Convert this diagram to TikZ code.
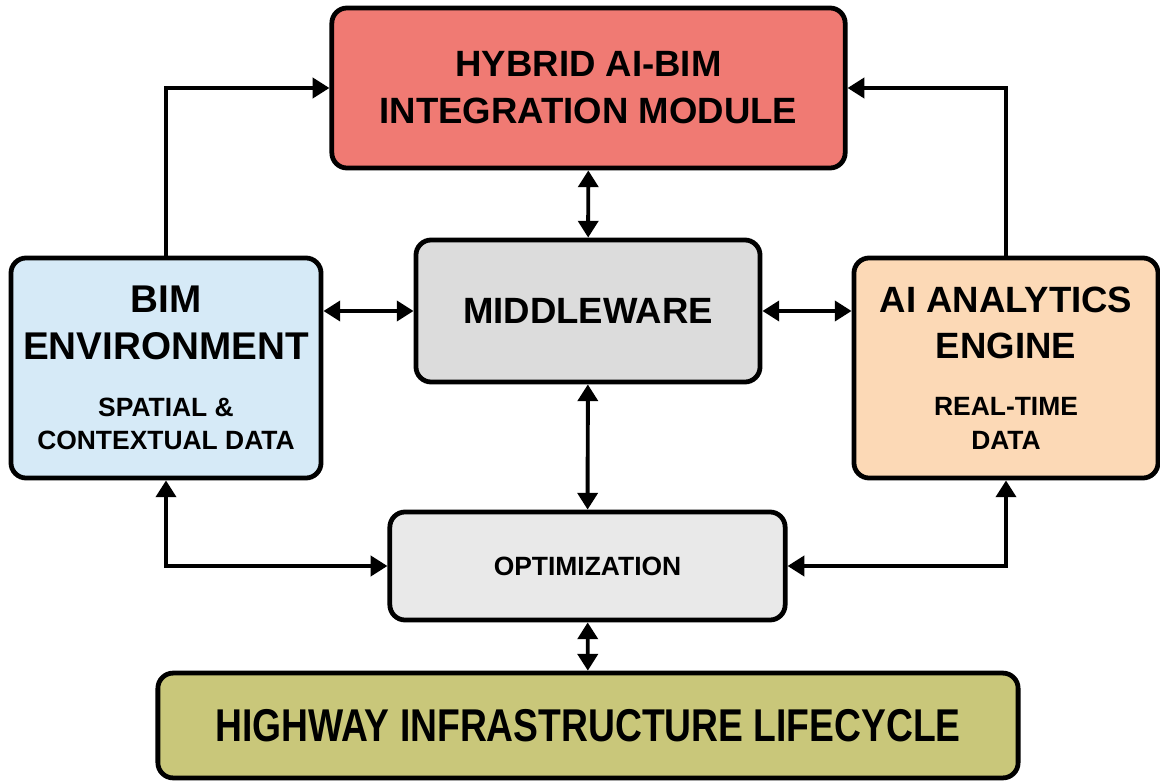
\documentclass[tikz,border=0pt]{standalone}
\usepackage{fontspec}
\setmainfont{Liberation Sans}
\newfontfamily\narrowfont[FakeStretch=0.81]{Liberation Sans}
\usepackage{tikz}
\usetikzlibrary{arrows.meta}
\definecolor{hybridred}{RGB}{240,122,115}
\definecolor{bimblue}{RGB}{214,234,247}
\definecolor{aipeach}{RGB}{252,217,182}
\definecolor{midgray}{RGB}{220,220,220}
\definecolor{optgray}{RGB}{233,233,233}
\definecolor{hwolive}{RGB}{201,199,122}
\newcommand{\bigtxt}{\fontsize{26}{33.4}\selectfont\bfseries}
\newcommand{\smalltxt}{\fontsize{18.8}{24}\selectfont\bfseries}
\tikzstyle{block} = [draw,line width=3.4pt,rounded corners=0.38cm,align=center,inner sep=0pt,font=\bigtxt]
\tikzstyle{arrow} = [line width=2.8pt,-{Triangle[length=0.42cm,width=0.5cm]}]
\tikzstyle{twoway} = [line width=2.8pt,{Triangle[length=0.42cm,width=0.5cm]}-{Triangle[length=0.42cm,width=0.5cm]}]

\begin{document}
\begin{tikzpicture}[x=0.025cm,y=-0.025cm]
          \useasboundingbox (0,0) rectangle (1160,782);
          \node[block, fill=hybridred, minimum width=12.83cm, minimum height=4cm] at (588.5,88) (hybrid)
            {HYBRID AI-BIM\\INTEGRATION MODULE};
          \node[block, fill=midgray, minimum width=8.6cm, minimum height=3.55cm] at (588,311) (mid)
            {MIDDLEWARE};
          \node[block, fill=bimblue, minimum width=7.75cm, minimum height=5.5cm, font=\fontsize{27.5}{33.4}\selectfont\bfseries] at (166,368) (bim)
            {BIM\\ENVIRONMENT\\[7pt]{\smalltxt SPATIAL \&}\\[-9.4pt]{\smalltxt CONTEXTUAL DATA}};
          \node[block, fill=aipeach, minimum width=7.6cm, minimum height=5.5cm] at (1006,368) (ai)
            {AI ANALYTICS\\ENGINE\\[7pt]{\smalltxt REAL-TIME}\\[-9.4pt]{\smalltxt DATA}};
          \node[block, fill=optgray, minimum width=9.88cm, minimum height=2.7cm, font=\smalltxt] at (587.5,566) (opt)
            {OPTIMIZATION};
          \node[block, fill=hwolive, minimum width=21.5cm, minimum height=2.62cm, font=\narrowfont\fontsize{32.7}{36}\selectfont\bfseries] at (588,725.5) (hwy)
            {HIGHWAY INFRASTRUCTURE LIFECYCLE};

          \draw[arrow] (bim.north) |- (hybrid.west);
          \draw[arrow] (ai.north) |- (hybrid.east);
          \draw[twoway] (hybrid) -- (mid);
          \draw[twoway] (mid.west) -- (mid.west -| bim.east);
          \draw[twoway] (mid.east) -- (mid.east -| ai.west);
          \draw[twoway] (mid) -- (opt);
          \draw[twoway] (bim.south) |- (opt.west);
          \draw[twoway] (ai.south) |- (opt.east);
          \draw[twoway] (opt) -- (hwy);
        \end{tikzpicture}
\end{document}
